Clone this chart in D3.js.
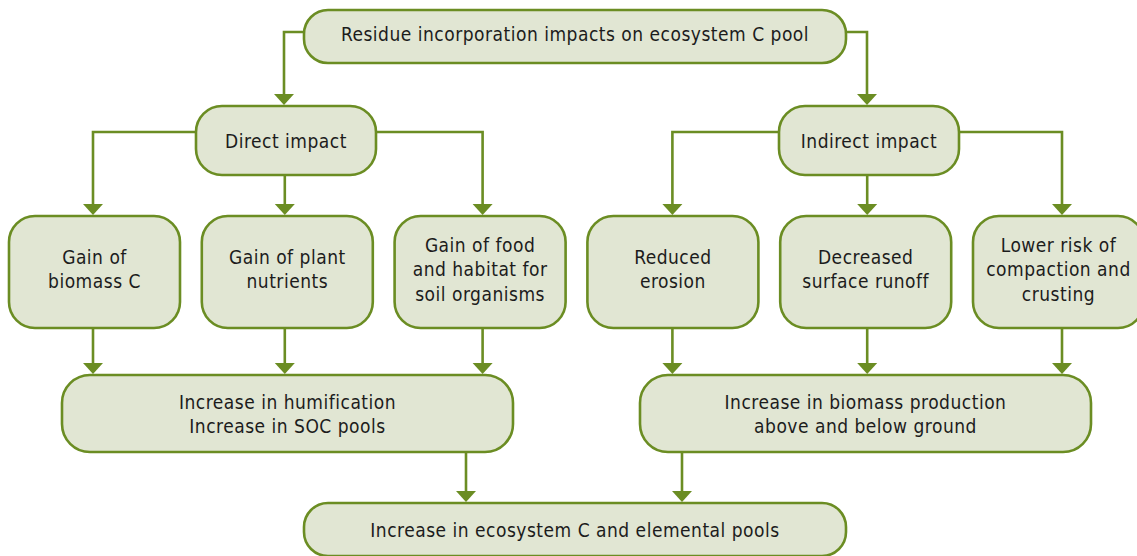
<!DOCTYPE html>
<html><head><meta charset="utf-8">
<script src="https://cdn.jsdelivr.net/npm/d3@7"></script>
<style>
html,body{margin:0;padding:0;background:#fff;overflow:hidden}
svg text{font-family:"DejaVu Sans Condensed","DejaVu Sans",sans-serif;font-stretch:condensed;fill:#1c1c1c;letter-spacing:0.5px}
</style></head><body>
<svg id="c" width="1137" height="556"></svg>
<script>
// ---- data ----
const topLabel = ["Residue incorporation impacts on ecosystem C pool"];
const impactLabels = [["Direct impact"], ["Indirect impact"]];
const effectLabels = [
  ["Gain of", "biomass C"],
  ["Gain of plant", "nutrients"],
  ["Gain of food", "and habitat for", "soil organisms"],
  ["Reduced", "erosion"],
  ["Decreased", "surface runoff"],
  ["Lower risk of", "compaction and", "crusting"]
];
const outcomeLabels = [
  ["Increase in humification", "Increase in SOC pools"],
  ["Increase in biomass production", "above and below ground"]
];
const finalLabel = ["Increase in ecosystem C and elemental pools"];
const effectGroup = [0, 0, 0, 1, 1, 1]; // which impact / outcome each effect belongs to

// ---- style / layout ----
const GREEN = "#6b8d23", FILL = "#e1e6d3", SW = 2.6;
const svg = d3.select("#c");

const col = d3.scalePoint().domain(d3.range(6)).range([94.5, 1058.5]);
const arrowOff = [-1.5, -2.5, 2.5, -0.5, 1.5, 3.5];
const rowY = d3.scaleOrdinal().domain(["top","impact","effect","outcome","final"])
  .range([[10, 63], [106, 175], [216, 328], [375, 452], [503, 556]]);
const textCY = {top:34, impact:141, effect:269.5, outcome:414, final:530};

const nodes = [];
nodes.push({id:"top", lines: topLabel, x0:304, x1:846, row:"top", r:24});
const impactX = [[196, 376], [779, 959]];
impactLabels.forEach((l,i)=>nodes.push({id:"imp"+i, lines:l, x0:impactX[i][0], x1:impactX[i][1], row:"impact", r:26}));
effectLabels.forEach((l,i)=>{const c=col(i); nodes.push({id:"eff"+i, lines:l, x0:c-85.5, x1:c+85.5, row:"effect", r:26});});
const outX = [[62, 513], [640, 1091]];
outcomeLabels.forEach((l,i)=>nodes.push({id:"out"+i, lines:l, x0:outX[i][0], x1:outX[i][1], row:"outcome", r:28}));
nodes.push({id:"fin", lines: finalLabel, x0:304, x1:846, row:"final", r:24});
nodes.forEach(n=>{const [y0,y1]=rowY(n.row); n.y0=y0; n.y1=y1; n.cx=(n.x0+n.x1)/2; n.cy=textCY[n.row];});
const N = Object.fromEntries(nodes.map(n=>[n.id,n]));

// connectors
const AH = 11, AW = 10;
const edges = [];
edges.push({pts:[[N.top.x0, 32],[284, 32],[284, N.imp0.y0]]});
edges.push({pts:[[N.top.x1, 32],[867, 32],[867, N.imp1.y0]]});
effectLabels.forEach((_,i)=>{
  const imp = N["imp"+effectGroup[i]], e = N["eff"+i], x = col(i)+arrowOff[i];
  const k = i%3;
  if(k===1) edges.push({pts:[[x, imp.y1],[x, e.y0]]});
  else if(k===0) edges.push({pts:[[imp.x0, 132],[x, 132],[x, e.y0]]});
  else edges.push({pts:[[imp.x1, 132],[x, 132],[x, e.y0]]});
});
effectLabels.forEach((_,i)=>{
  const e=N["eff"+i], o=N["out"+effectGroup[i]], x=col(i)+arrowOff[i];
  edges.push({pts:[[x, e.y1],[x, o.y0]]});
});
edges.push({pts:[[466, N.out0.y1],[466, N.fin.y0]]});
edges.push({pts:[[682, N.out1.y1],[682, N.fin.y0]]});

const line = d3.line();
const gE = svg.append("g");
edges.forEach(e=>{
  const p = e.pts.map(d=>d.slice());
  const last = p[p.length-1];
  const tipY = last[1]-1;
  const shaft = p.map(d=>d.slice()); shaft[shaft.length-1][1] = tipY-AH+1;
  gE.append("path").attr("d", line(shaft)).attr("fill","none").attr("stroke",GREEN).attr("stroke-width",SW);
  gE.append("path").attr("d", line([[last[0]-AW, tipY-AH],[last[0]+AW, tipY-AH],[last[0], tipY]])+"Z").attr("fill",GREEN);
});

const gN = svg.append("g");
const ng = gN.selectAll("g").data(nodes).join("g");
ng.append("rect")
  .attr("x",d=>d.x0).attr("y",d=>d.y0).attr("width",d=>d.x1-d.x0).attr("height",d=>d.y1-d.y0)
  .attr("rx",d=>d.r).attr("ry",d=>d.r)
  .attr("fill",FILL).attr("stroke",GREEN).attr("stroke-width",SW);
const LH = 24.3, FS = 19;
ng.each(function(d){
  const g = d3.select(this);
  const n = d.lines.length;
  d.lines.forEach((t,i)=>{
    g.append("text").attr("x",d.cx).attr("y",d.cy + (i-(n-1)/2)*LH)
      .attr("text-anchor","middle").attr("dy","0.36em").attr("font-size",FS).text(t);
  });
});
</script></body></html>
